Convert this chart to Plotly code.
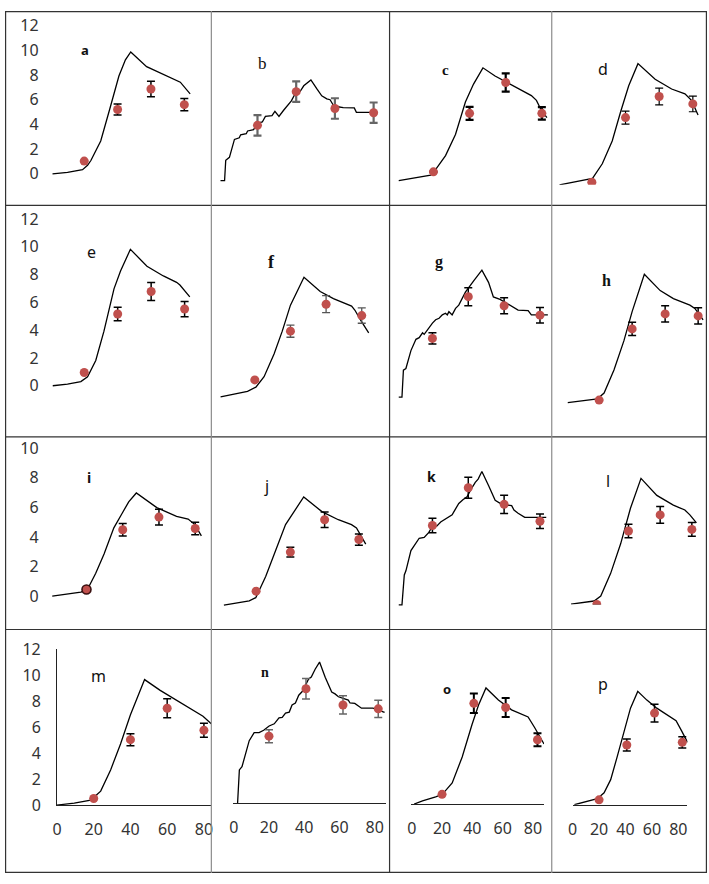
import plotly.graph_objects as go

W, H = 709, 884

# ---------------- data (x: days, y: value) ----------------
a_curve_x = [1, 10, 19, 22, 24, 29.9, 35.4, 40.8, 44.7, 47.9, 57.4, 67.5, 75.2, 77.6, 83.5]
a_curve_y = [0, 0.12, 0.34, 0.69, 1.08, 2.66, 5.29, 7.92, 9.23, 9.87, 8.68, 8.05, 7.58, 7.42, 6.47]
a_dot_x = [20, 40, 60, 80]
a_dot_y = [1.03, 5.21, 6.87, 5.6]
a_err = [None, 0.45, 0.63, 0.5]

b_curve_x = [0.9, 3.0, 3.6, 5.5, 8.1, 10.6, 11.3, 14.2, 14.9, 18.0, 20.0, 22.5, 24.1, 27.5, 29.0, 30.0, 31.1,
             33.5, 35.3, 37.5, 39.4, 42.0, 43.9, 47.6, 50.7, 53.2, 55.8, 57.5, 59.2, 61.5, 64.3, 70.0, 71.1, 80.4]
b_curve_y = [0.08, 0.08, 1.83, 2.08, 3.61, 3.75, 4.0, 4.1, 4.33, 4.45, 5.0, 5.1, 5.58, 5.65, 6.0, 5.83, 5.58,
             6.1, 6.5, 6.9, 7.5, 7.7, 8.19, 8.69, 7.92, 7.33, 7.08, 7.0, 6.53, 6.4, 6.33, 6.3, 5.92, 5.92]
b_dot_x = [20, 40, 60, 80]
b_dot_y = [4.81, 7.69, 6.25, 5.89]
b_err = [0.875, 0.875, 0.875, 0.875]

c_curve_x = [0.8, 18.5, 20, 26.7, 32.2, 37.7, 42.2, 47.4, 54.1, 66.9, 74.2, 77, 79.7, 82.8]
c_curve_y = [0.17, 0.64, 0.86, 2.31, 4.11, 6.89, 8.42, 9.81, 9.11, 8.0, 7.44, 7.03, 6.19, 5.56]
c_dot_x = [20, 40, 60, 80]
c_dot_y = [0.92, 5.92, 8.56, 5.92]
c_err = [None, 0.56, 0.78, 0.53]

d_curve_x = [0.8, 16.5, 20.4, 26.2, 32.1, 37.1, 41.9, 47.4, 57.6, 67.4, 75.3, 79.2, 83.1]
d_curve_y = [0, 0.42, 0.55, 1.8, 3.75, 6.25, 8.47, 10.36, 9.03, 8.19, 7.78, 7.22, 5.97]
d_dot_x = [20, 40, 60, 80]
d_dot_y = [0.22, 5.75, 7.55, 6.92]
d_err = [None, 0.56, 0.72, 0.67]

e_curve_x = [1.2, 10, 18, 22, 26.9, 31.8, 37.8, 41.7, 47.6, 57.5, 67.3, 75.2, 77.2, 83.1]
e_curve_y = [0, 0.12, 0.3, 0.65, 1.82, 3.93, 6.97, 8.25, 9.82, 8.6, 7.9, 7.44, 7.25, 6.39]
e_dot_x = [20, 40, 60, 80]
e_dot_y = [0.95, 5.16, 6.78, 5.52]
e_err = [None, 0.48, 0.65, 0.55]

f_curve_x = [0.8, 15.9, 20.6, 25.2, 30.8, 35.4, 40, 47.6, 56.7, 64.1, 74.3, 76.1, 79.8, 83.9]
f_curve_y = [0.3, 0.7, 1.0, 1.75, 3.39, 5.03, 6.9, 8.91, 7.88, 7.37, 6.83, 6.55, 5.73, 4.91]
f_dot_x = [20, 40, 60, 80]
f_dot_y = [1.52, 5.03, 6.97, 6.15]
f_err = [None, 0.44, 0.61, 0.55]

g_curve_x = [1.2, 3.0, 3.8, 5.2, 8.0, 10.8, 12.6, 14.5, 15.4, 17.2, 18.1, 20, 21.8, 23.7, 25.5, 27.3, 28.3,
             29.2, 31, 32.9, 34.7, 38.4, 43, 47.6, 51.3, 54, 57.7, 64.2, 67.8, 73.4, 75.2, 84.4]
g_curve_y = [0.28, 0.28, 2.22, 2.34, 3.63, 4.44, 4.56, 4.91, 4.8, 5.14, 5.26, 5.61, 5.85, 5.96, 6.2, 6.32, 6.2,
             6.43, 6.2, 6.67, 6.9, 7.84, 8.65, 9.42, 8.54, 7.49, 7.32, 6.83, 6.55, 6.51, 6.2, 6.2]
g_dot_x = [20, 40, 60, 80]
g_dot_y = [4.51, 7.51, 6.86, 6.18]
g_err = [0.41, 0.65, 0.58, 0.56]

h_curve_x = [1, 19, 23, 29, 35, 40, 47.4, 57, 65, 75, 78, 83]
h_curve_y = [0.16, 0.44, 0.86, 2.51, 4.61, 6.72, 9.4, 8.23, 7.65, 7.18, 6.95, 6.13]
h_dot_x = [20, 40, 60, 80]
h_dot_y = [0.35, 5.47, 6.55, 6.41]
h_err = [None, 0.48, 0.58, 0.58]

i_curve_x = [1.1, 16.9, 20.5, 25.1, 29.7, 35.1, 39.7, 43.3, 47.5, 58.8, 69.7, 76.1, 79.8, 83.4]
i_curve_y = [0, 0.26, 0.44, 1.54, 2.85, 4.61, 5.6, 6.37, 6.97, 5.98, 5.39, 5.21, 4.83, 4.07]
i_dot_x = [20, 40, 60, 80]
i_dot_y = [0.44, 4.48, 5.34, 4.57]
i_err = [None, 0.42, 0.53, 0.42]

j_curve_x = [1.2, 16, 19.8, 25.6, 31.4, 37.2, 47.8, 58.4, 68, 75.7, 78.6, 84]
j_curve_y = [0.05, 0.33, 0.55, 1.98, 3.74, 5.49, 7.36, 6.37, 5.82, 5.49, 5.27, 4.17]
j_dot_x = [20, 40, 60, 80]
j_dot_y = [0.99, 3.63, 5.82, 4.48]
j_err = [None, 0.33, 0.53, 0.38]

k_curve_x = [1.2, 3, 4.3, 5.2, 8, 10.8, 12.6, 15.4, 18, 20, 22.4, 24.6, 27.5, 31, 32.5, 34.7, 37, 39.3, 41.5,
             43.9, 45.5, 47.6, 51.3, 55, 58.7, 64.2, 65.5, 67.8, 71.5, 83.5]
k_curve_y = [0.2, 0.2, 2.22, 2.5, 3.87, 4.42, 4.7, 4.75, 5.1, 5.52, 5.52, 5.8, 6.0, 6.28, 6.6, 7.05, 7.3, 7.5, 8.0,
             8.48, 8.7, 9.21, 8.26, 7.27, 6.99, 6.9, 6.61, 6.39, 6.11, 6.11]
k_dot_x = [20, 40, 60, 80]
k_dot_y = [5.56, 8.11, 6.99, 5.85]
k_err = [0.49, 0.71, 0.61, 0.49]

l_curve_x = [3.75, 18.3, 22.5, 28.75, 35, 41.25, 47.9, 57.9, 68.3, 75.6, 78.75, 82.9]
l_curve_y = [0.03, 0.24, 0.57, 2.11, 4.09, 6.51, 8.53, 7.38, 6.72, 6.39, 6.06, 5.52]
l_dot_x = [20, 40, 60, 80]
l_dot_y = [0, 4.97, 6.06, 5.08]
l_err = [None, 0.46, 0.56, 0.46]

m_curve_x = [0, 9.4, 18.4, 23.8, 29.2, 34.6, 40, 43.6, 47.7, 56.2, 65.1, 75.9, 79.5, 84]
m_curve_y = [0, 0.15, 0.38, 1.07, 2.7, 4.7, 6.95, 8.2, 9.65, 8.82, 8.07, 7.2, 6.83, 6.25]
m_dot_x = [20, 40, 60, 80]
m_dot_y = [0.5, 5.03, 7.45, 5.75]
m_err = [None, 0.46, 0.73, 0.54]

n_curve_x = [2.2, 3.2, 4.7, 8.8, 11.6, 14.4, 17, 20.1, 23, 25.7, 27.5, 29.4, 31.5, 33.1, 35, 36.9, 39, 42.5,
             44, 46.2, 48.7, 51.9, 55.6, 57.5, 59.4, 65, 66, 68.7, 72.5, 79, 85.6]
n_curve_y = [0, 2.55, 2.8, 4.8, 5.42, 5.42, 5.6, 5.93, 6.1, 6.55, 6.6, 6.92, 7.0, 7.55, 7.7, 8.3, 8.6, 9.55,
             9.7, 10.3, 10.85, 9.68, 8.55, 8.4, 8.18, 7.92, 7.7, 7.67, 7.3, 7.3, 6.98]
n_dot_x = [20, 41, 62, 82]
n_dot_y = [5.15, 8.8, 7.55, 7.25]
n_err = [0.5, 0.79, 0.7, 0.66]

o_curve_x = [1.6, 7.1, 15.8, 20.2, 26.7, 33.3, 39.8, 44.1, 49, 57.2, 65.9, 76.8, 81.2, 87.3]
o_curve_y = [0, 0.25, 0.55, 0.75, 1.62, 3.62, 6.12, 7.62, 8.93, 8.0, 7.25, 6.7, 5.87, 4.62]
o_dot_x = [20, 41, 62, 83]
o_dot_y = [0.75, 7.75, 7.43, 4.95]
o_err = [None, 0.75, 0.73, 0.5]

p_curve_x = [1.3, 11.2, 18.7, 23.8, 28.8, 33.7, 38.8, 43.8, 49.3, 56.2, 63.7, 71.2, 78.3, 82.5, 87]
p_curve_y = [0, 0.25, 0.47, 0.92, 1.93, 3.68, 5.68, 7.43, 8.72, 8.05, 7.43, 6.92, 6.47, 5.68, 4.8]
p_dot_x = [20, 41, 62, 83]
p_dot_y = [0.375, 4.6, 7.05, 4.8]
p_err = [None, 0.46, 0.68, 0.44]

y_ticks_12 = [0, 2, 4, 6, 8, 10, 12]
y_ticks_10 = [0, 2, 4, 6, 8, 10]
x_ticks = [0, 20, 40, 60, 80]

data = {
    'a': (a_curve_x, a_curve_y, a_dot_x, a_dot_y, a_err),
    'b': (b_curve_x, b_curve_y, b_dot_x, b_dot_y, b_err),
    'c': (c_curve_x, c_curve_y, c_dot_x, c_dot_y, c_err),
    'd': (d_curve_x, d_curve_y, d_dot_x, d_dot_y, d_err),
    'e': (e_curve_x, e_curve_y, e_dot_x, e_dot_y, e_err),
    'f': (f_curve_x, f_curve_y, f_dot_x, f_dot_y, f_err),
    'g': (g_curve_x, g_curve_y, g_dot_x, g_dot_y, g_err),
    'h': (h_curve_x, h_curve_y, h_dot_x, h_dot_y, h_err),
    'i': (i_curve_x, i_curve_y, i_dot_x, i_dot_y, i_err),
    'j': (j_curve_x, j_curve_y, j_dot_x, j_dot_y, j_err),
    'k': (k_curve_x, k_curve_y, k_dot_x, k_dot_y, k_err),
    'l': (l_curve_x, l_curve_y, l_dot_x, l_dot_y, l_err),
    'm': (m_curve_x, m_curve_y, m_dot_x, m_dot_y, m_err),
    'n': (n_curve_x, n_curve_y, n_dot_x, n_dot_y, n_err),
    'o': (o_curve_x, o_curve_y, o_dot_x, o_dot_y, o_err),
    'p': (p_curve_x, p_curve_y, p_dot_x, p_dot_y, p_err),
}

# ---------------- layout / style (pixels) ----------------
SANS = "Noto Sans"
SERIF = "Liberation Serif"
RED = "#c0504d"

# box = (left, top, right, bottom) of plot area; map = (px of x=0, px per x unit, px of y=0, px per y unit)
style = {
    'a': dict(box=(40, 2, 207, 197), map=(46.3, 1.685, 167, 12.67), yt=y_ticks_12, lab=(81, 40, SANS, 13, True)),
    'b': dict(box=(210, 2, 387, 197), map=(215.9, 1.955, 175, 12.0), ec="#666666", et=2.2, lab=(260, 54, SERIF, 17, False)),
    'c': dict(box=(390, 2, 551, 197), map=(396.2, 1.825, 176, 12.0), et=2.2, lab=(445, 60, SERIF, 15, True)),
    'd': dict(box=(554, 2, 707, 178.3), map=(558.7, 1.7, 178.3, 12.0), et=1.2, lab=(604, 59, SANS, 16, False)),
    'e': dict(box=(40, 201, 207, 435), map=(46.2, 1.69, 384.3, 14.25), yt=y_ticks_12, lab=(87, 247, SANS, 16, False)),
    'f': dict(box=(210, 201, 387, 435), map=(216.3, 1.8, 400, 14.25), ec="#555555", et=1.3, lab=(269, 257, SERIF, 18, True)),
    'g': dict(box=(390, 201, 551, 435), map=(395.5, 1.81, 400, 14.25), lab=(438, 257, SERIF, 16, True)),
    'h': dict(box=(554, 201, 707, 435), map=(566.7, 1.667, 404, 14.25), lab=(608, 276, SERIF, 16, True)),
    'i': dict(box=(40, 439, 207, 632), map=(45.7, 1.83, 600, 15.17), yt=y_ticks_10, lab=(85, 478, SANS, 14, True), ring=True),
    'j': dict(box=(210, 439, 387, 632), map=(219, 1.73, 610, 15.17), lab=(264, 487, SANS, 16, False)),
    'k': dict(box=(390, 439, 551, 632), map=(395.5, 1.81, 612, 15.17), lab=(431, 477, SANS, 14, True)),
    'l': dict(box=(554, 439, 707, 608.7), map=(565.7, 1.6, 608.7, 15.17), lab=(609, 482, SANS, 16, False)),
    'm': dict(box=(52.5, 654.3, 208.3, 814.3), map=(52.5, 1.855, 814.3, 13.33), yt=y_ticks_12, xt=x_ticks,
              yline=True, xline=True, lab=(94, 682, SANS, 16, False)),
    'n': dict(box=(230, 645, 384.3, 812.3), map=(231, 1.78, 812.3, 13.33), xt=x_ticks, xline=True,
              ec="#666666", lab=(263, 678, SERIF, 14, True)),
    'o': dict(box=(410, 645, 544.3, 813.3), map=(410.8, 1.53, 813.3, 13.33), xt=x_ticks, xline=True, et=2.0,
              lab=(446, 695, SANS, 13, True)),
    'p': dict(box=(573.3, 645, 689.3, 814), map=(573.3, 1.334, 814, 13.33), xt=x_ticks, xline=True,
              lab=(604, 690, SANS, 16, False)),
}

fig = go.Figure()
layout = {}
annotations = []
tickfont = dict(family=SANS, size=16, color="#333333")

for idx, name in enumerate(data):
    n = idx + 1
    xa, ya = ('x', 'y') if n == 1 else (f'x{n}', f'y{n}')
    xk, yk = ('xaxis', 'yaxis') if n == 1 else (f'xaxis{n}', f'yaxis{n}')
    st = style[name]
    L, T, R, B = st['box']
    x0, sx, y0, sy = st['map']
    cx, cy, dx, dy, err = data[name]

    xaxis = dict(domain=[L / W, R / W], range=[(L - x0) / sx, (R - x0) / sx], anchor=ya,
                 showgrid=False, zeroline=False, ticks='', fixedrange=True,
                 showline=st.get('xline', False), linecolor="#222222", linewidth=1)
    yaxis = dict(domain=[1 - B / H, 1 - T / H], range=[(y0 - B) / sy, (y0 - T) / sy], anchor=xa,
                 showgrid=False, zeroline=False, ticks='', fixedrange=True,
                 showline=st.get('yline', False), linecolor="#222222", linewidth=1)
    if 'xt' in st:
        xaxis.update(tickmode='array', tickvals=st['xt'], showticklabels=True, tickfont=tickfont,
                     ticklabelstandoff=10)
    else:
        xaxis.update(showticklabels=False)
    if 'yt' in st:
        yaxis.update(tickmode='array', tickvals=st['yt'], showticklabels=True, tickfont=tickfont,
                     ticklabelstandoff=(12 if st.get('yline') else 5))
    else:
        yaxis.update(showticklabels=False)
    layout[xk] = xaxis
    layout[yk] = yaxis

    fig.add_trace(go.Scatter(x=cx, y=cy, mode='lines', xaxis=xa, yaxis=ya, showlegend=False,
                             line=dict(color='black', width=1.3), hoverinfo='skip'))
    ring = st.get('ring', False)
    fig.add_trace(go.Scatter(
        x=dx, y=dy, mode='markers', xaxis=xa, yaxis=ya, showlegend=False,
        marker=dict(color=RED, size=9,
                    line=dict(color='#3a1010', width=[1.6 if (ring and k == 0) else 0 for k in range(len(dx))])),
        error_y=dict(type='data', array=err, visible=True, color=st.get('ec', 'black'),
                     thickness=st.get('et', 1.5), width=4)))

    lx, ly, lfam, lsize, lbold = st['lab']
    annotations.append(dict(x=lx / W, y=1 - ly / H, xref='paper', yref='paper', showarrow=False,
                            text=(f"<b>{name}</b>" if lbold else name), xanchor='center', yanchor='middle',
                            font=dict(family=lfam, size=lsize, color='#111111')))

# ---------------- cell borders ----------------
shapes = []
def hline(y, color):
    shapes.append(dict(type='line', xref='paper', yref='paper', x0=0, x1=1, y0=1 - y / H, y1=1 - y / H,
                       line=dict(color=color, width=1.2)))
def vline(x, color):
    shapes.append(dict(type='line', xref='paper', yref='paper', x0=x / W, x1=x / W, y0=0, y1=1,
                       line=dict(color=color, width=1.2)))

for yy in (0.6, 199.3, 436.8, 634.3, 883.4):
    hline(yy, '#333333')
vline(0.6, '#333333')
vline(208.4, '#8c8c8c')
vline(388.4, '#333333')
vline(552.2, '#8c8c8c')
vline(708.4, '#333333')

fig.update_layout(width=W, height=H, margin=dict(l=0, r=0, t=0, b=0), paper_bgcolor='white',
                  plot_bgcolor='rgba(0,0,0,0)', showlegend=False, annotations=annotations, shapes=shapes,
                  **layout)

fig.write_html("out.html")
